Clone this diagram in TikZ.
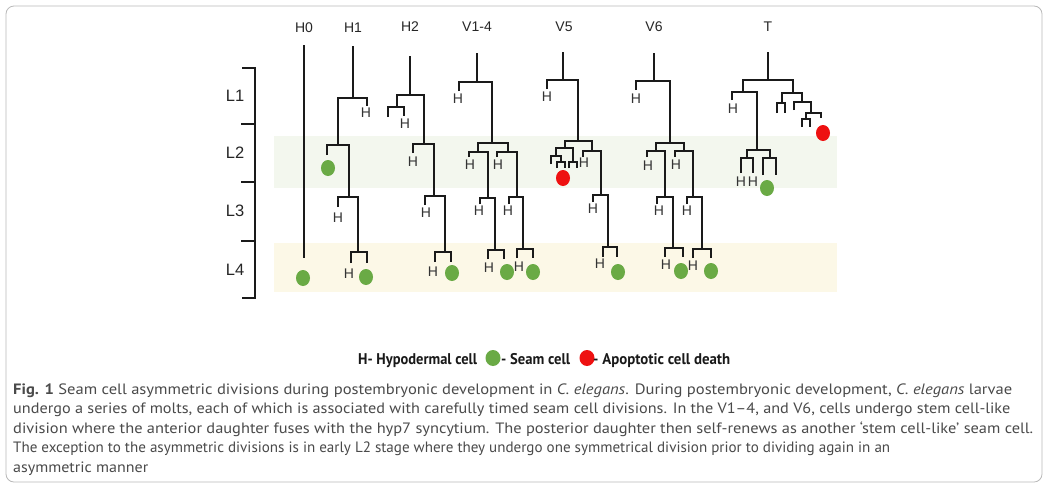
\documentclass[tikz,border=0pt]{standalone}
\usepackage{fontspec}
\setmainfont{Liberation Sans}
\newfontfamily\capfont{PT Sans}
\usetikzlibrary{shapes.geometric}
\definecolor{seamc}{HTML}{6AAA45}
\definecolor{apoc}{HTML}{EE1111}
\definecolor{lineblk}{HTML}{1A1A1A}
\definecolor{bandgreen}{HTML}{F3F7EE}
\definecolor{bandyellow}{HTML}{FCF8E7}
\definecolor{captxt}{HTML}{4A4A4A}
\newcommand\Fk[5]{\draw[tree] (#1,#4) |- (#2,#3) -- (#2,#5);}
\begin{document}
\begin{tikzpicture}[x=1pt,y=-1pt,
  tree/.style={draw=lineblk,line width=2pt},
  hlab/.style={font=\fontsize{14}{16}\selectfont, text=black!80, inner sep=0},
  clab/.style={font=\fontsize{14}{16}\selectfont, text=black!85, inner sep=0},
  llab/.style={font=\fontsize{16.5}{18}\selectfont, text=black!85, inner sep=0},
  seam/.style={ellipse, fill=seamc, minimum width=14pt, minimum height=16pt, inner sep=0},
  apo/.style={ellipse, fill=apoc, minimum width=14pt, minimum height=16pt, inner sep=0},
  legdot/.style={ellipse, minimum width=15pt, minimum height=16pt, inner sep=0},
  captext/.style={font=\capfont\fontsize{15}{17}\selectfont, text=captxt, inner sep=0, anchor=base west},
  legtext/.style={font=\capfont\bfseries\fontsize{15.5}{17}\selectfont, text=black!90, inner sep=0, anchor=base west}]
\useasboundingbox (0,0) rectangle (1049,488);
\fill[white] (0,0) rectangle (1049,488);
\draw[gray!55, line width=0.8pt, rounded corners=8pt] (6,6) rectangle (1042,482);
% stage bands
\fill[bandgreen] (274,136) rectangle (837,188);
\fill[bandyellow] (274,243) rectangle (837,292);
% stage bracket
\draw[tree] (242,68) -| (255,298) -- (242,298);
\foreach \yy in {124,182,241} \draw[tree] (241,\yy) -- (255,\yy);
\node[llab] (L1) at (235,96) {L1};
\node[llab] (L2) at (235,153) {L2};
\node[llab] (L3) at (235,211) {L3};
\node[llab] (L4) at (235,270) {L4};
% column labels
\node[clab] (cH0) at (304,28) {H0};
\node[clab] (cH1) at (353,28) {H1};
\node[clab] (cH2) at (410,27) {H2};
\node[clab] (cV14) at (477,27) {V1-4};
\node[clab] (cV5) at (564,27) {V5};
\node[clab] (cV6) at (654,27) {V6};
\node[clab] (cT) at (768,27) {T};
% H0
\draw[tree] (304,45) -- (304,258);
\node[seam] (s0) at (303,278) {};
% H1
\draw[tree] (353,46) -- (353,98);
\Fk{338}{367}{98}{145}{106}
\node[hlab] (h1a) at (366,113) {H};
\Fk{327}{349}{145}{155}{197}
\node[seam] (s1a) at (328,168) {};
\Fk{338}{358}{197}{207}{252}
\node[hlab] (h1b) at (338,218) {H};
\Fk{351}{367}{252}{263}{263}
\node[hlab] (h1c) at (349,274) {H};
\node[seam] (s1b) at (366,277) {};
% H2
\draw[tree] (410,56) -- (410,95);
\Fk{397}{424}{95}{107}{144}
\Fk{388}{404}{107}{117}{116}
\node[hlab] (h2a) at (405,124) {H};
\Fk{413}{434}{144}{153}{196}
\node[hlab] (h2b) at (413,162) {H};
\Fk{425}{445}{196}{205}{252}
\node[hlab] (h2c) at (426,213) {H};
\Fk{435}{451}{252}{262}{262}
\node[hlab] (h2d) at (433,272) {H};
\node[seam] (s2) at (452,273) {};
% V1-4
\draw[tree] (477,53) -- (477,82);
\Fk{459}{492}{82}{91}{143}
\node[hlab] (v1a) at (458,99) {H};
\Fk{478}{508}{143}{152}{152}
\Fk{469}{488}{152}{157}{198}
\node[hlab] (v1b) at (470,165) {H};
\Fk{480}{495}{198}{204}{250}
\node[hlab] (v1c) at (479,211) {H};
\Fk{488}{504}{250}{259}{259}
\node[hlab] (v1d) at (489,268) {H};
\node[seam] (sv1a) at (507,272) {};
\Fk{497}{517}{152}{157}{197}
\node[hlab] (v1e) at (498,165) {H};
\Fk{509}{523}{197}{204}{249}
\node[hlab] (v1f) at (508,211) {H};
\Fk{517}{533}{249}{258}{258}
\node[hlab] (v1g) at (519,267) {H};
\node[seam] (sv1b) at (533,272) {};
% V5
\draw[tree] (563,52) -- (563,80);
\Fk{547}{578}{80}{89}{141}
\node[hlab] (v5a) at (547,97) {H};
\Fk{565}{592}{141}{148}{151}
\Fk{556}{573}{148}{156}{162}
\Fk{551}{561}{156}{164}{162}
\Fk{557}{565}{162}{168}{168}
\Fk{569}{577}{162}{168}{168}
\node[apo] (a5) at (563,178) {};
\Fk{583}{601}{151}{157}{195}
\node[hlab] (v5b) at (584,163) {H};
\Fk{593}{608}{195}{202}{247}
\node[hlab] (v5c) at (593,209) {H};
\Fk{603}{617}{247}{257}{257}
\node[hlab] (v5d) at (600,264) {H};
\node[seam] (sv5) at (618,272) {};
% V6
\draw[tree] (654,53) -- (654,81);
\Fk{636}{670}{81}{90}{143}
\node[hlab] (v6a) at (636,99) {H};
\Fk{656}{684}{143}{151}{151}
\Fk{647}{665}{151}{157}{197}
\node[hlab] (v6b) at (648,166) {H};
\Fk{657}{673}{197}{204}{248}
\node[hlab] (v6c) at (659,211) {H};
\Fk{665}{683}{248}{257}{257}
\node[hlab] (v6d) at (666,265) {H};
\node[seam] (sv6a) at (681,271) {};
\Fk{675}{693}{151}{157}{197}
\node[hlab] (v6e) at (676,165) {H};
\Fk{687}{702}{197}{204}{249}
\node[hlab] (v6f) at (687,211) {H};
\Fk{693}{711}{249}{258}{258}
\node[hlab] (v6g) at (693,266) {H};
\node[seam] (sv6b) at (711,271) {};
% T
\draw[tree] (768,52) -- (768,80);
\Fk{743}{793}{80}{92}{93}
\Fk{732}{757}{92}{100}{150}
\node[hlab] (ta) at (733,109) {H};
\Fk{747}{770}{150}{158}{158}
\Fk{741}{753}{158}{173}{173}
\node[hlab] (tb) at (741,182) {H};
\node[hlab] (tc) at (753,182) {H};
\Fk{763}{776}{158}{175}{175}
\node[seam] (st) at (767,188) {};
\Fk{782}{802}{93}{103}{102}
\Fk{777}{785}{103}{113}{113}
\Fk{794}{811}{102}{110}{113}
\Fk{806}{821}{113}{119}{118}
\Fk{802}{810}{119}{127}{127}
\node[apo] (at) at (823,133) {};
% legend
\node[legtext] (legH) at (358,364) {\resizebox{119pt}{\height}{H- Hypodermal cell}};
\node[legdot, fill=seamc] (legG) at (493,358) {};
\node[legtext] (legS) at (501,364) {\resizebox{69pt}{\height}{- Seam cell}};
\node[legdot, fill=apoc] (legR) at (587,358) {};
\node[legtext] (legA) at (593,364) {\resizebox{137pt}{\height}{- Apoptotic cell death}};
% caption
\node[captext] (c1) at (13,394) {\resizebox{999pt}{\height}{\textbf{Fig. 1} Seam cell asymmetric divisions during postembryonic development in \textit{C. elegans}. During postembryonic development, \textit{C. elegans} larvae}};
\node[captext] (c2) at (13,413) {\resizebox{997pt}{\height}{undergo a series of molts, each of which is associated with carefully timed seam cell divisions. In the V1–4, and V6, cells undergo stem cell-like}};
\node[captext] (c3) at (13,433) {\resizebox{1020pt}{\height}{division where the anterior daughter fuses with the hyp7 syncytium. The posterior daughter then self-renews as another ‘stem cell-like’ seam cell.}};
\node[captext] (c4) at (13,452) {\resizebox{877pt}{\height}{The exception to the asymmetric divisions is in early L2 stage where they undergo one symmetrical division prior to dividing again in an}};
\node[captext] (c5) at (13,472) {\resizebox{135pt}{\height}{asymmetric manner}};
\end{tikzpicture}
\end{document}
